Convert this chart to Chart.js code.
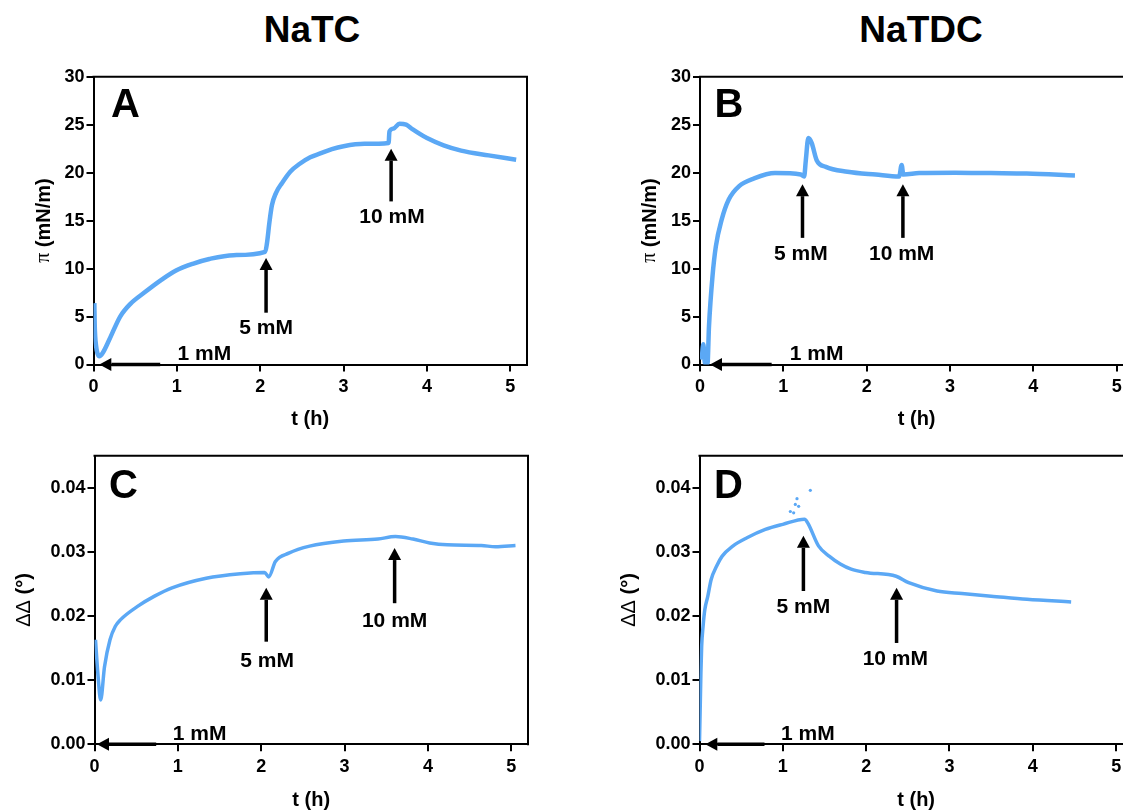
<!DOCTYPE html>
<html><head><meta charset="utf-8">
<script src="https://cdn.jsdelivr.net/npm/chart.js@4.4.1/dist/chart.umd.min.js"></script>
<style>
html,body{margin:0;padding:0;background:#fff;width:1123px;height:812px;overflow:hidden;position:relative;font-family:"Liberation Sans",Arial,sans-serif}
.ttl{position:absolute;top:9px;font-weight:bold;font-size:37px;line-height:42px;transform:translateX(-50%);color:#000;white-space:nowrap}
canvas{position:absolute;display:block}
</style></head><body>
<div class="ttl" style="left:312px">NaTC</div>
<div class="ttl" style="left:921px">NaTDC</div>
<canvas id="cA" width="560" height="380" style="left:0;top:60px;width:560px;height:380px"></canvas>
<canvas id="cB" width="600" height="380" style="left:560px;top:60px;width:600px;height:380px"></canvas>
<canvas id="cC" width="560" height="372" style="left:0;top:440px;width:560px;height:372px"></canvas>
<canvas id="cD" width="600" height="372" style="left:560px;top:440px;width:600px;height:372px"></canvas>
<script>
// ---- tick labels ----
const xTicks = [0, 1, 2, 3, 4, 5];
const piTicks = [0, 5, 10, 15, 20, 25, 30];
const ddTicks = [0, 0.01, 0.02, 0.03, 0.04];
const concLabels = ['1 mM', '5 mM', '10 mM'];

// ---- A: NaTC surface pressure (mN/m) vs t (h) ----
const natcPiT = [0.01, 0.015, 0.03, 0.05, 0.07, 0.11, 0.19, 0.32, 0.44, 0.61, 0.81, 0.99, 1.19, 1.39, 1.68, 2.06, 2.08, 2.11, 2.14, 2.19, 2.26, 2.36, 2.47, 2.6, 2.72, 2.86, 3.0, 3.25, 3.54, 3.55, 3.6, 3.67, 3.75, 3.83, 4.0, 4.2, 4.41, 4.74, 5.07];
const natcPi  = [6.4, 4.0, 2.0, 1.1, 0.85, 1.2, 2.6, 5.0, 6.3, 7.5, 8.8, 9.8, 10.5, 11.0, 11.4, 11.75, 12.6, 14.8, 16.6, 17.9, 18.9, 20.1, 20.9, 21.6, 22.0, 22.45, 22.75, 23.0, 23.1, 24.3, 24.6, 25.1, 25.0, 24.5, 23.6, 22.85, 22.3, 21.8, 21.35];

// ---- B: NaTDC surface pressure ----
const natdcPiT = [0.02, 0.04, 0.06, 0.09, 0.108, 0.15, 0.19, 0.26, 0.345, 0.47, 0.65, 0.9, 1.21, 1.25, 1.27, 1.30, 1.34, 1.40, 1.51, 1.77, 2.11, 2.39, 2.42, 2.44, 2.63, 3.06, 3.49, 3.92, 4.5];
const natdcPi  = [0.5, 2.1, 0.1, 0.1, 4.0, 9.2, 12.3, 15.1, 17.2, 18.6, 19.4, 19.95, 19.8, 19.6, 21.3, 23.6, 23.1, 21.3, 20.6, 20.1, 19.8, 19.6, 20.8, 19.8, 19.95, 20.0, 19.95, 19.9, 19.7];

// ---- C: NaTC ΔΔ (°) ----
const natcDdT = [0.012, 0.04, 0.074, 0.12, 0.186, 0.25, 0.31, 0.516, 0.72, 0.93, 1.34, 1.75, 2.04, 2.09, 2.17, 2.33, 2.58, 2.99, 3.40, 3.61, 3.82, 4.02, 4.23, 4.64, 4.81, 5.05];
const natcDd  = [0.0163, 0.0111, 0.0069, 0.0121, 0.0163, 0.0184, 0.0194, 0.0215, 0.0231, 0.0244, 0.0259, 0.0266, 0.0268, 0.0261, 0.0285, 0.0298, 0.0309, 0.0317, 0.0320, 0.0324, 0.0320, 0.0314, 0.0311, 0.0310, 0.0308, 0.0310];

// ---- D: NaTDC ΔΔ (°) ----
const natdcDdT = [0.0, 0.009, 0.017, 0.026, 0.043, 0.064, 0.10, 0.14, 0.206, 0.27, 0.40, 0.57, 0.79, 1.0, 1.26, 1.30, 1.43, 1.56, 1.69, 1.82, 1.99, 2.36, 2.51, 2.85, 3.15, 3.50, 3.93, 4.46];
const natdcDd  = [0.0005, 0.006, 0.0112, 0.0153, 0.0184, 0.021, 0.0231, 0.0257, 0.0278, 0.0293, 0.0309, 0.0322, 0.0335, 0.0343, 0.0351, 0.0345, 0.0309, 0.0293, 0.0281, 0.0273, 0.0268, 0.0262, 0.0252, 0.0239, 0.0235, 0.0231, 0.0226, 0.0222];
const natdcDdOutT = [1.09, 1.13, 1.15, 1.17, 1.19, 1.33];
const natdcDdOut  = [0.0363, 0.0361, 0.0374, 0.0383, 0.0371, 0.0396];

// ---- injection annotations (data coords): arrow [tailX, tailY, tipX, tipY], label [x, y] ----
const annA = { arrows: [[0.80, 0, 0.07, 0], [2.07, 5.4, 2.07, 11.1], [3.57, 17.0, 3.57, 22.5]], labels: [[1.33, 1.1], [2.07, 3.8], [3.58, 15.4]] };
const annB = { arrows: [[0.86, 0, 0.12, 0], [1.23, 13.2, 1.23, 18.8], [2.435, 13.2, 2.435, 18.8]], labels: [[1.40, 1.1], [1.21, 11.45], [2.42, 11.45]] };
const annC = { arrows: [[0.74, 0, 0.03, 0], [2.06, 0.0160, 2.06, 0.0244], [3.60, 0.0220, 3.60, 0.0306]], labels: [[1.26, 0.0016], [2.07, 0.0129], [3.60, 0.0192]] };
const annD = { arrows: [[0.78, 0, 0.07, 0], [1.247, 0.0239, 1.247, 0.0325], [2.365, 0.0158, 2.365, 0.0244]], labels: [[1.30, 0.00156], [1.247, 0.0213], [2.35, 0.01325]] };

const FAM = '"Liberation Sans", Arial, Helvetica, sans-serif';
const BLUE = '#5BA8F5';
const pts = (xs, ys) => xs.map((x, i) => ({ x, y: ys[i] }));

function drawArrow(ctx, x1, y1, x2, y2) {
  const ang = Math.atan2(y2 - y1, x2 - x1);
  const hl = 12, hw = 6.5;
  const bx = x2 - hl * Math.cos(ang), by = y2 - hl * Math.sin(ang);
  ctx.strokeStyle = '#000'; ctx.lineWidth = 3.5; ctx.lineCap = 'butt';
  ctx.beginPath(); ctx.moveTo(x1, y1); ctx.lineTo(bx, by); ctx.stroke();
  ctx.fillStyle = '#000';
  ctx.beginPath();
  ctx.moveTo(x2, y2);
  ctx.lineTo(bx + hw * Math.sin(ang), by - hw * Math.cos(ang));
  ctx.lineTo(bx - hw * Math.sin(ang), by + hw * Math.cos(ang));
  ctx.closePath(); ctx.fill();
}

const deco = {
  id: 'deco',
  afterDraw(chart, args, o) {
    const { ctx, chartArea: a } = chart;
    const xs = chart.scales.x, ys = chart.scales.y;
    ctx.save();
    ctx.strokeStyle = '#000'; ctx.lineWidth = 2;
    ctx.beginPath(); ctx.moveTo(a.left - 1, a.top); ctx.lineTo(a.right, a.top); ctx.lineTo(a.right, a.bottom + 1); ctx.stroke();
    ctx.fillStyle = '#000'; ctx.textAlign = 'center'; ctx.textBaseline = 'middle';
    ctx.font = 'bold 40px ' + FAM;
    ctx.fillText(o.letter, a.left + o.letterDx, a.top + o.letterDy);
    ctx.save();
    ctx.translate(a.left + o.yTitleDx, (a.top + a.bottom) / 2);
    ctx.rotate(-Math.PI / 2);
    let total = 0;
    o.yTitle.forEach(p => { ctx.font = p.font; p.w = ctx.measureText(p.text).width; total += p.w; });
    let x = -total / 2; ctx.textAlign = 'left'; ctx.textBaseline = 'middle';
    o.yTitle.forEach(p => { ctx.font = p.font; ctx.fillText(p.text, x, 0); x += p.w; });
    ctx.restore();
    o.ann.arrows.forEach(r => drawArrow(ctx, xs.getPixelForValue(r[0]), ys.getPixelForValue(r[1]), xs.getPixelForValue(r[2]), ys.getPixelForValue(r[3])));
    ctx.fillStyle = '#000'; ctx.font = 'bold 21px ' + FAM; ctx.textAlign = 'center'; ctx.textBaseline = 'middle';
    o.ann.labels.forEach((p, i) => ctx.fillText(concLabels[i], xs.getPixelForValue(p[0]), ys.getPixelForValue(p[1])));
    ctx.restore();
  }
};

function make(id, cfg) {
  const tickFont = { family: FAM, size: 18, weight: 'bold' };
  const axisGrid = { display: true, drawOnChartArea: false, drawTicks: true, tickLength: 7, lineWidth: 2, color: '#000' };
  const datasets = [{ data: pts(cfg.t, cfg.v), borderColor: BLUE, backgroundColor: BLUE, borderWidth: cfg.lw, pointRadius: 0, cubicInterpolationMode: 'monotone', fill: false }];
  if (cfg.outT) datasets.push({ data: pts(cfg.outT, cfg.outV), showLine: false, pointRadius: 1.6, pointBorderWidth: 0, backgroundColor: BLUE, borderColor: BLUE });
  return new Chart(document.getElementById(id), {
    type: 'line',
    data: { datasets },
    options: {
      responsive: false, animation: false, devicePixelRatio: 1,
      layout: { padding: { left: 0, top: cfg.padTop, right: cfg.padRight, bottom: 0 } },
      plugins: { legend: { display: false }, tooltip: { enabled: false }, deco: cfg.deco },
      scales: {
        x: {
          type: 'linear', min: 0, max: 5.2,
          afterBuildTicks: s => { s.ticks = xTicks.map(v => ({ value: v })); },
          afterFit: s => { s.height = cfg.xH; },
          grid: axisGrid, border: { display: true, width: 2, color: '#000' },
          ticks: { color: '#000', font: tickFont, padding: 5, maxRotation: 0, autoSkip: false, callback: v => String(v) },
          title: { display: true, text: 't (h)', color: '#000', font: { family: FAM, size: 20, weight: 'bold' }, padding: { top: 0, bottom: cfg.xTitlePad } }
        },
        y: {
          type: 'linear', min: 0, max: cfg.yMax,
          afterBuildTicks: s => { s.ticks = cfg.yTicks.map(v => ({ value: v })); },
          afterFit: s => { s.width = cfg.yW; },
          grid: axisGrid, border: { display: true, width: 2, color: '#000' },
          ticks: { color: '#000', font: tickFont, padding: 2, autoSkip: false, callback: cfg.yFmt }
        }
      }
    },
    plugins: [deco]
  });
}

const piTitle = [{ text: 'π', font: '20px "Liberation Serif", "DejaVu Serif", serif' }, { text: ' (mN/m)', font: 'bold 20px ' + FAM }];
const ddTitle = [{ text: 'ΔΔ', font: '20px ' + FAM }, { text: ' (°)', font: 'bold 20px ' + FAM }];

make('cA', { t: natcPiT, v: natcPi, lw: 4.5, yMax: 30, yTicks: piTicks, yFmt: v => String(v), yW: 93.5, padTop: 16.7, padRight: 33, xH: 75.5, xTitlePad: 9,
  deco: { letter: 'A', letterDx: 32, letterDy: 29, yTitleDx: -49.5, yTitle: piTitle, ann: annA } });
make('cB', { t: natdcPiT, v: natdcPi, lw: 4.5, yMax: 30, yTicks: piTicks, yFmt: v => String(v), yW: 140, padTop: 16.7, padRight: 26.7, xH: 75.5, xTitlePad: 9,
  deco: { letter: 'B', letterDx: 29, letterDy: 29, yTitleDx: -50, yTitle: piTitle, ann: annB } });
make('cC', { t: natcDdT, v: natcDd, lw: 3.5, yMax: 0.045, yTicks: ddTicks, yFmt: v => v.toFixed(2), yW: 94.5, padTop: 15.7, padRight: 32, xH: 67.7, xTitlePad: 0,
  deco: { letter: 'C', letterDx: 29, letterDy: 31, yTitleDx: -70.5, yTitle: ddTitle, ann: annC } });
make('cD', { t: natdcDdT, v: natdcDd, outT: natdcDdOutT, outV: natdcDdOut, lw: 3.5, yMax: 0.045, yTicks: ddTicks, yFmt: v => v.toFixed(2), yW: 139.5, padTop: 15.7, padRight: 27.2, xH: 67.7, xTitlePad: 0,
  deco: { letter: 'D', letterDx: 29, letterDy: 31, yTitleDx: -70.5, yTitle: ddTitle, ann: annD } });
</script>
</body></html>
